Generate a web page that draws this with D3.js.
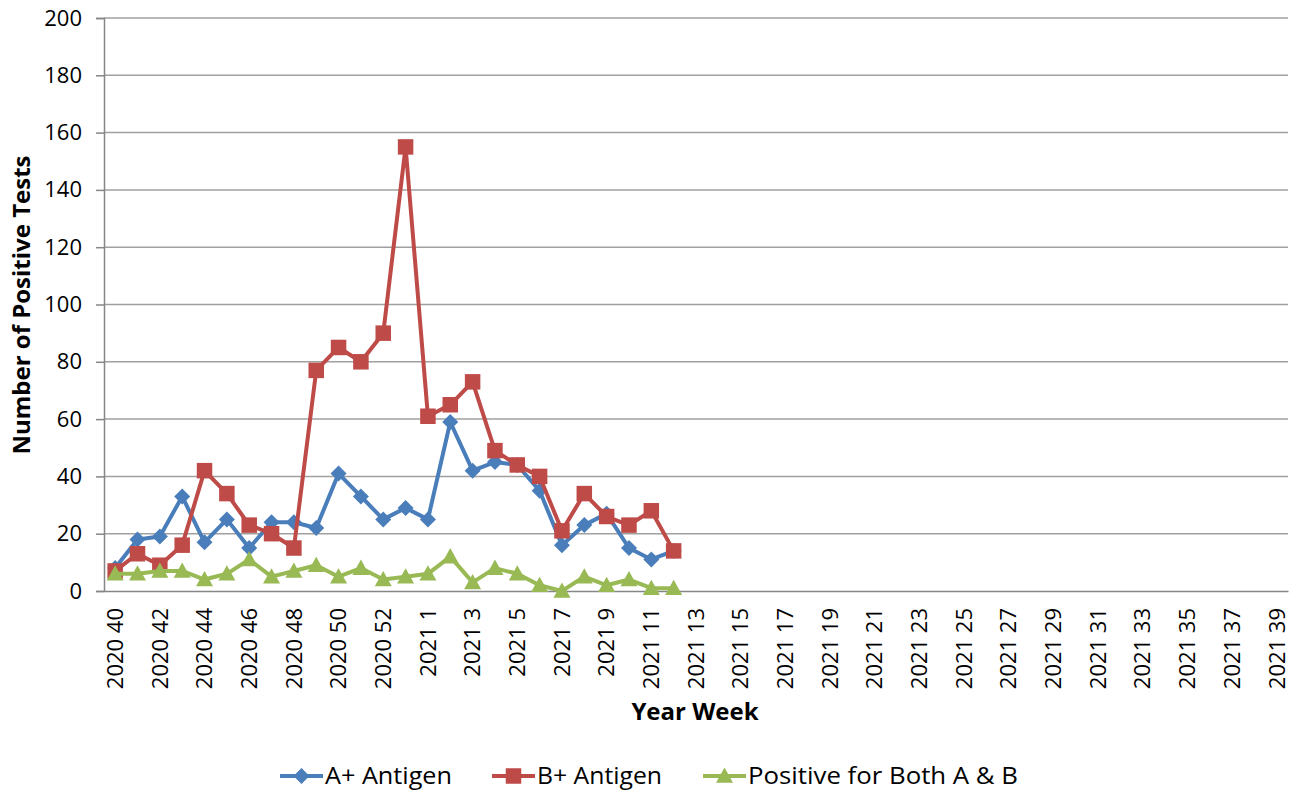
<!DOCTYPE html>
<html>
<head>
<meta charset="utf-8">
<script src="https://cdn.jsdelivr.net/npm/d3@7"></script>
<style>
  html, body { margin: 0; padding: 0; background: #fff; }
  svg { display: block; }
  text { font-family: "Open Sans", "Liberation Sans", sans-serif; fill: #000; }
</style>
</head>
<body>
<svg id="chart" width="1296" height="793"></svg>
<script>
const categories = [
  "2020 40","2020 41","2020 42","2020 43","2020 44","2020 45","2020 46","2020 47","2020 48","2020 49",
  "2020 50","2020 51","2020 52","2020 53","2021 1","2021 2","2021 3","2021 4","2021 5","2021 6",
  "2021 7","2021 8","2021 9","2021 10","2021 11","2021 12","2021 13","2021 14","2021 15","2021 16",
  "2021 17","2021 18","2021 19","2021 20","2021 21","2021 22","2021 23","2021 24","2021 25","2021 26",
  "2021 27","2021 28","2021 29","2021 30","2021 31","2021 32","2021 33","2021 34","2021 35","2021 36",
  "2021 37","2021 38","2021 39"
];
const aAntigen = [8, 18, 19, 33, 17, 25, 15, 24, 24, 22, 41, 33, 25, 29, 25, 59, 42, 45, 44, 35, 16, 23, 27, 15, 11, 14];
const bAntigen = [7, 13, 9, 16, 42, 34, 23, 20, 15, 77, 85, 80, 90, 155, 61, 65, 73, 49, 44, 40, 21, 34, 26, 23, 28, 14];
const bothAB   = [6, 6, 7, 7, 4, 6, 11, 5, 7, 9, 5, 8, 4, 5, 6, 12, 3, 8, 6, 2, 0, 5, 2, 4, 1, 1];
const yTicks = [0, 20, 40, 60, 80, 100, 120, 140, 160, 180, 200];
const seriesNames = ["A+ Antigen", "B+ Antigen", "Positive for Both A & B"];
const seriesColors = ["#4A7EBB", "#BE4B48", "#98B954"];
const seriesShapes = ["diamond", "square", "triangle"];

const svg = d3.select("#chart");
const pLeft = 104, pRight = 1288, pTop = 18, pBottom = 591;

const x = d3.scaleBand().domain(categories).range([pLeft, pRight]).padding(0);
const y = d3.scaleLinear().domain([0, 200]).range([pBottom, pTop]);
const cx = c => x(c) + x.bandwidth() / 2;

// gridlines
svg.append("g").selectAll("line").data(yTicks.filter(d => d > 0)).join("line")
  .attr("x1", pLeft).attr("x2", pRight)
  .attr("y1", d => y(d)).attr("y2", d => y(d))
  .attr("stroke", "#a0a0a0").attr("stroke-width", 1.5);

// y axis
const yAxis = d3.axisLeft(y).tickValues(yTicks).tickSize(8).tickPadding(14).tickFormat(d3.format("d"));
const gy = svg.append("g").attr("transform", `translate(${pLeft},0)`).call(yAxis);
gy.select(".domain").attr("stroke", "#868686").attr("stroke-width", 1.5);
gy.selectAll(".tick line").attr("stroke", "#868686").attr("stroke-width", 1.5);
gy.selectAll(".tick text").attr("font-size", 22).attr("font-family", "Open Sans").attr("fill", "#000");

// x axis
const xAxis = d3.axisBottom(x).tickSize(0).tickPadding(0)
  .tickFormat((d, i) => i % 2 === 0 ? d : "");
const gx = svg.append("g").attr("transform", `translate(0,${pBottom})`).call(xAxis);
gx.select(".domain").attr("stroke", "#868686").attr("stroke-width", 1.5);
gx.selectAll(".tick text")
  .attr("font-size", 22).attr("font-family", "Open Sans").attr("fill", "#000")
  .attr("text-anchor", "end")
  .attr("transform", "rotate(-90)")
  .attr("x", -17).attr("y", 0).attr("dy", "0.35em");

// axis titles
svg.append("text").attr("x", (pLeft + pRight) / 2 - 1).attr("y", 720)
  .attr("text-anchor", "middle").attr("font-size", 24).attr("font-weight", "bold")
  .text("Year Week");
svg.append("text").attr("transform", `translate(30,305) rotate(-90)`)
  .attr("text-anchor", "middle").attr("font-size", 24).attr("font-weight", "bold")
  .text("Number of Positive Tests");

// symbols
function symbolPath(shape, size) {
  const s = size / 2;
  if (shape === "diamond") return `M0,${-s}L${s},0L0,${s}L${-s},0Z`;
  if (shape === "square") return `M${-s},${-s}H${s}V${s}H${-s}Z`;
  return `M0,${-s}L${s},${s * 0.8}L${-s},${s * 0.8}Z`;
}
const symSizes = { diamond: 16, square: 15.5, triangle: 17 };

const allSeries = [aAntigen, bAntigen, bothAB];
const line = d3.line().x((d, i) => cx(categories[i])).y(d => y(d));

allSeries.forEach((vals, k) => {
  const g = svg.append("g");
  g.append("path").datum(vals).attr("d", line)
    .attr("fill", "none").attr("stroke", seriesColors[k]).attr("stroke-width", 4)
    .attr("stroke-linejoin", "round");
  g.selectAll("path.m").data(vals).join("path").attr("class", "m")
    .attr("transform", (d, i) => `translate(${cx(categories[i])},${y(d)})`)
    .attr("d", symbolPath(seriesShapes[k], symSizes[seriesShapes[k]]))
    .attr("fill", seriesColors[k]);
});

// legend
const legendX = [280, 492, 703];
const legendTextLen = [127, 125, 270];
const legendY = 776;
seriesNames.forEach((name, k) => {
  const g = svg.append("g").attr("transform", `translate(${legendX[k]},${legendY})`);
  g.append("line").attr("x1", 0).attr("x2", 43).attr("y1", 0).attr("y2", 0)
    .attr("stroke", seriesColors[k]).attr("stroke-width", 4);
  g.append("path").attr("transform", "translate(21.5,0)")
    .attr("d", symbolPath(seriesShapes[k], symSizes[seriesShapes[k]]))
    .attr("fill", seriesColors[k]);
  g.append("text").attr("x", 45).attr("y", 0).attr("dy", "0.35em")
    .attr("font-size", 24)
    .attr("textLength", legendTextLen[k]).attr("lengthAdjust", "spacingAndGlyphs")
    .text(name);
});
</script>
</body>
</html>
